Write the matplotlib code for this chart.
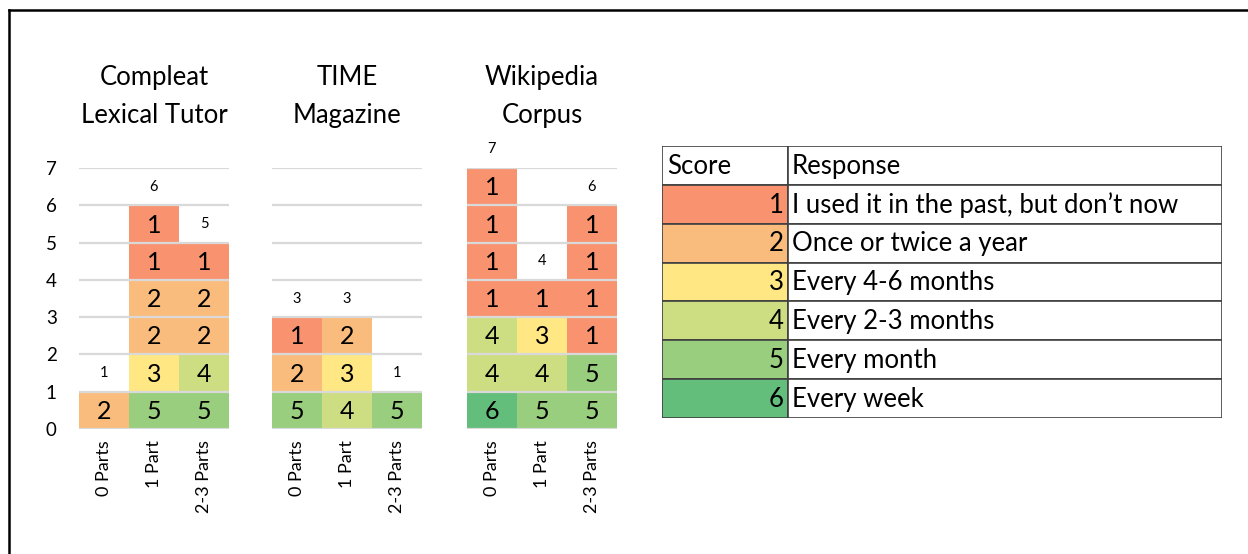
import matplotlib.pyplot as plt
from matplotlib.lines import Line2D
from matplotlib.patches import Rectangle

plt.rcParams['font.family'] = ['Lato', 'DejaVu Sans']

# panel titles and column categories
sources = ["Compleat\nLexical Tutor", "TIME\nMagazine", "Wikipedia\nCorpus"]
parts = ["0 Parts", "1 Part", "2-3 Parts"]

# scores of each respondent, stacked bottom to top, one list per column
clt_scores = [[2], [5, 3, 2, 2, 1, 1], [5, 4, 2, 2, 1]]
time_scores = [[5, 2, 1], [4, 3, 2], [5]]
wiki_scores = [[6, 4, 4, 1, 1, 1, 1], [5, 4, 3, 1], [5, 5, 1, 1, 1, 1]]
all_scores = [clt_scores, time_scores, wiki_scores]

# legend table
score_levels = [1, 2, 3, 4, 5, 6]
responses = ["I used it in the past, but don\u2019t now", "Once or twice a year",
             "Every 4-6 months", "Every 2-3 months", "Every month", "Every week"]
score_colors = ["#F9936F", "#F9BC7C", "#FFE883", "#CDDD82", "#98CE7D", "#63BE7B"]
color_of = dict(zip(score_levels, score_colors))

W, H = 1248, 554
fig = plt.figure(figsize=(W / 100, H / 100), dpi=100)

panel_left = [79, 272, 467]
for k, (title, scores) in enumerate(zip(sources, all_scores)):
    ax = fig.add_axes([panel_left[k] / W, 1 - 429 / H, 150 / W, 261 / H])
    for i, col in enumerate(scores):
        for j, s in enumerate(col):
            ax.bar(i, 1, bottom=j, width=1.0, color=color_of[s], zorder=1)
            ax.text(i, j + 0.47, str(s), ha='center', va='center', fontsize=18, zorder=4)
        ax.text(i, len(col) + 0.5, str(len(col)), ha='center', va='center',
                fontsize=10.5, zorder=4, clip_on=False)
    ax.set_xlim(-0.5, 2.5)
    ax.set_ylim(0, 7)
    ax.set_yticks(range(8))
    ax.yaxis.grid(True, color='#D9D9D9', lw=1.6, zorder=3)
    ax.set_axisbelow(False)
    for sp in ax.spines.values():
        sp.set_visible(False)
    ax.set_xticks(range(3))
    ax.set_xticklabels(parts, rotation=90, fontsize=13)
    ax.tick_params(axis='x', length=0, pad=8)
    if k == 0:
        ax.tick_params(axis='y', length=0, pad=16, labelsize=13.5)
    else:
        ax.tick_params(axis='y', length=0, labelleft=False)
    fig.text((panel_left[k] + 75) / W, 1 - 128 / H, title, ha='center', va='bottom',
             fontsize=18.5, linespacing=1.65)

# legend table
tx0, ty0, tw, th = 662, 146, 560, 272
tax = fig.add_axes([tx0 / W, 1 - (ty0 + th) / H, tw / W, th / H])
tax.set_xlim(0, tw)
tax.set_ylim(7, 0)
tax.axis('off')
split = 126
rows = [("Score", "Response", "white")] + \
       [(str(s), r, c) for s, r, c in zip(score_levels, responses, score_colors)]
for r, (sc, resp, col) in enumerate(rows):
    tax.add_patch(Rectangle((0, r), split, 1, facecolor=col, edgecolor='#404040', lw=1.2))
    tax.add_patch(Rectangle((split, r), tw - split, 1, facecolor='white', edgecolor='#404040', lw=1.2))
    if r == 0:
        tax.text(5, r + 0.52, sc, ha='left', va='center', fontsize=18.5)
    else:
        tax.text(split - 4, r + 0.52, sc, ha='right', va='center', fontsize=18.5)
    tax.text(split + 4, r + 0.52, resp, ha='left', va='center', fontsize=18.5)

# outer frame lines (top and left)
fig.add_artist(Line2D([9 / W, 1], [1 - 10 / H, 1 - 10 / H], color='black', lw=1.8))
fig.add_artist(Line2D([9 / W, 9 / W], [0, 1 - 10 / H], color='black', lw=1.8))

fig.savefig('out.png', dpi=100, facecolor='white')
